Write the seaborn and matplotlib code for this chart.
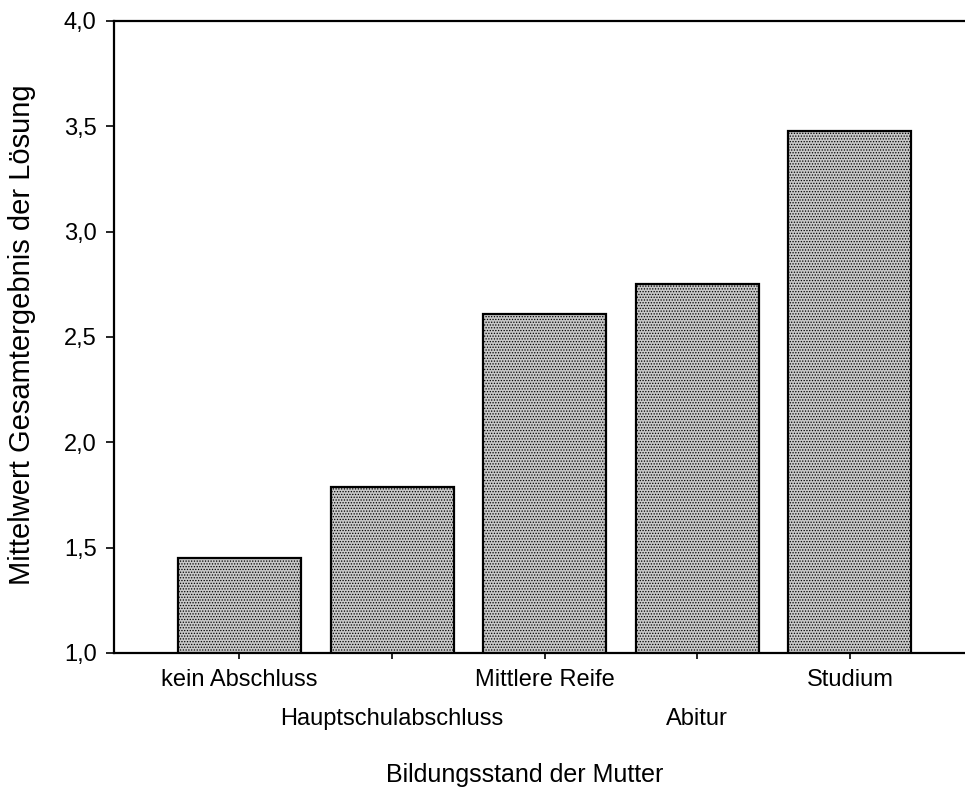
import numpy as np
import pandas as pd
import matplotlib
matplotlib.use("Agg")
import matplotlib.pyplot as plt
import seaborn as sns

# values
categories = ["kein Abschluss", "Hauptschulabschluss", "Mittlere Reife", "Abitur", "Studium"]
means = [1.45, 1.79, 2.61, 2.75, 3.48]
yticks = [1.0, 1.5, 2.0, 2.5, 3.0, 3.5, 4.0]
ytick_labels = ["1,0", "1,5", "2,0", "2,5", "3,0", "3,5", "4,0"]

df = pd.DataFrame({"Bildungsstand": categories, "Mittelwert": means})

sns.set_style("white")
plt.rcParams["font.family"] = ["Liberation Sans", "DejaVu Sans"]
plt.rcParams["text.color"] = "black"
plt.rcParams["axes.labelcolor"] = "black"
plt.rcParams["xtick.color"] = "black"
plt.rcParams["ytick.color"] = "black"
plt.rcParams["hatch.color"] = "#8c8c8c"
plt.rcParams["hatch.linewidth"] = 0.6

fig = plt.figure(figsize=(9.65, 8.1), dpi=100)
ax = fig.add_axes([114 / 965, 157 / 810, 851 / 965, 632 / 810])

sns.barplot(data=df, x="Bildungsstand", y="Mittelwert", order=categories,
            color="#c8c8c8", edgecolor="black", linewidth=1.6, width=0.806,
            saturation=1, ax=ax)
for bar in ax.patches:
    bar.set_hatch("......")

ax.set_ylim(1.0, 4.0)
ax.set_xlim(-0.822, 4.754)
ax.set_yticks(yticks)
ax.set_yticklabels(ytick_labels)

for sp in ["left", "bottom", "top"]:
    ax.spines[sp].set_visible(True)
    ax.spines[sp].set_color("black")
    ax.spines[sp].set_linewidth(1.6)
ax.spines["right"].set_visible(False)

ax.tick_params(axis="y", direction="out", length=6, width=1.2, labelsize=17, pad=6.5, left=True)
ax.tick_params(axis="x", direction="out", length=4, width=1.2, labelsize=17, bottom=True)

# staggered category labels
for i, tick in enumerate(ax.xaxis.get_major_ticks()):
    tick.set_pad(7.5 if i % 2 == 0 else 35.5)

ax.set_xlabel("Bildungsstand der Mutter", fontsize=18)
ax.set_ylabel("Mittelwert Gesamtergebnis der Lösung", fontsize=21)
ax.xaxis.set_label_coords(0.483, -0.193)
ax.xaxis.label.set_va("center")
ax.yaxis.set_label_coords(-0.108, 0.503)
ax.yaxis.label.set_va("center")

fig.savefig("out.png", dpi=100)
